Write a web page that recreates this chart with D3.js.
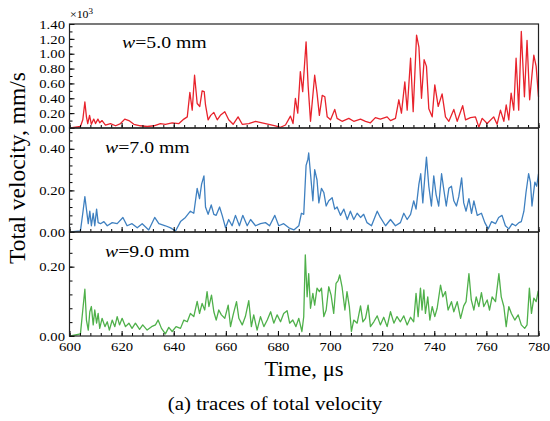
<!DOCTYPE html>
<html>
<head>
<meta charset="utf-8">
<script src="https://cdn.jsdelivr.net/npm/d3@7"></script>
<style>
  body { margin: 0; background: #fff; }
  .axis path { display: none; }
  .axis line { stroke: #000; }
</style>
</head>
<body>
<div id="chart"></div>
<script>
// time (us) / value pairs
const redTime = [600.4,604.2,605.1,605.9,606.5,607.0,607.7,608.4,609.3,610.0,610.9,611.6,612.5,613.8,615.7,617.7,619.6,621.2,622.8,624.7,627.2,629.8,632.4,634.9,636.8,639.4,642.0,643.9,645.2,646.2,647.1,648.0,649.0,650.0,650.9,651.7,652.2,653.2,654.2,655.4,656.7,657.9,659.6,661.1,662.8,664.7,666.3,668.8,671.4,673.9,676.5,679.0,681.0,682.9,684.8,685.8,686.7,687.6,688.6,689.5,690.8,691.6,692.5,694.1,695.0,695.9,697.0,698.0,698.9,700.2,701.8,702.7,704.6,707.2,709.1,711.7,713.6,715.5,717.4,719.3,721.9,723.2,725.1,726.4,727.4,728.7,729.6,730.9,731.9,733.2,734.1,735.1,736.1,737.0,737.9,739.2,740.2,741.5,743.0,744.3,745.6,747.5,748.8,750.9,752.0,753.9,755.8,757.1,758.4,760.3,762.8,764.1,765.4,766.7,767.6,768.6,769.5,770.5,771.4,772.4,773.4,774.6,775.6,776.6,778.2,779.1,780.0];
const redValue = [0.00,0.02,0.11,0.35,0.15,0.06,0.17,0.05,0.12,0.06,0.12,0.07,0.10,0.04,0.06,0.03,0.06,0.12,0.10,0.05,0.03,0.02,0.03,0.06,0.05,0.07,0.06,0.12,0.15,0.48,0.24,0.71,0.33,0.29,0.50,0.49,0.31,0.11,0.17,0.21,0.11,0.17,0.22,0.11,0.05,0.15,0.05,0.06,0.09,0.07,0.05,0.03,0.01,0.04,0.16,0.06,0.40,0.20,0.76,0.49,1.16,0.56,0.09,0.71,0.47,0.17,0.44,0.42,0.15,0.11,0.25,0.13,0.09,0.13,0.09,0.12,0.09,0.07,0.14,0.12,0.15,0.10,0.13,0.38,0.20,0.62,0.24,0.94,0.22,1.25,1.09,0.40,0.92,0.83,0.26,0.15,0.58,0.29,0.46,0.15,0.09,0.25,0.09,0.30,0.11,0.14,0.15,0.01,0.13,0.06,0.15,0.05,0.24,0.09,0.31,0.11,0.47,0.24,0.94,0.24,1.30,0.42,1.18,0.38,0.98,0.83,0.42];

const blueTime = [600.4,604.2,605.1,605.9,606.5,607.2,607.8,608.4,609.1,609.7,610.4,611.0,611.9,613.2,614.5,616.4,618.3,620.5,622.1,624.0,626.0,627.9,630.4,632.7,634.3,636.8,638.8,640.7,642.6,644.5,646.4,647.7,649.0,649.9,650.7,651.6,652.2,653.2,654.4,655.4,656.3,657.6,658.6,659.9,661.1,662.4,663.7,665.2,666.5,668.2,669.5,671.4,673.3,675.2,676.8,678.8,680.3,682.2,684.2,686.1,688.0,689.0,689.9,690.8,691.5,691.8,692.5,693.4,694.1,695.0,695.7,696.7,697.6,698.5,699.5,700.8,701.8,702.7,704.0,705.3,706.6,707.8,709.1,710.4,711.7,712.9,714.2,715.9,718.1,719.3,721.3,723.2,725.1,727.0,728.3,729.6,730.9,732.1,733.0,734.1,734.8,735.6,736.4,737.0,737.9,738.9,739.8,740.7,741.7,742.8,743.7,744.6,745.6,746.6,747.5,748.5,749.4,750.5,751.3,752.2,753.3,754.3,755.2,756.5,758.1,759.4,760.7,762.0,763.5,764.7,766.0,767.3,768.6,769.9,771.2,772.5,773.4,774.4,775.2,776.2,776.9,777.5,778.6,779.3,780.0];
const blueValue = [0.000,0.005,0.09,0.17,0.11,0.04,0.10,0.03,0.09,0.03,0.11,0.045,0.04,0.05,0.03,0.045,0.04,0.07,0.03,0.04,0.02,0.04,0.01,0.07,0.04,0.03,0.02,0.005,0.05,0.07,0.10,0.09,0.21,0.16,0.23,0.27,0.12,0.085,0.13,0.085,0.08,0.12,0.08,0.02,0.06,0.03,0.08,0.03,0.08,0.03,0.06,0.03,0.04,0.045,0.03,0.08,0.03,0.04,0.02,0.01,0.03,0.09,0.085,0.32,0.35,0.38,0.28,0.15,0.30,0.25,0.14,0.21,0.19,0.125,0.15,0.165,0.11,0.12,0.08,0.11,0.06,0.10,0.06,0.09,0.07,0.085,0.045,0.03,0.10,0.07,0.03,0.06,0.03,0.045,0.09,0.06,0.085,0.15,0.11,0.23,0.28,0.14,0.27,0.36,0.22,0.125,0.27,0.18,0.125,0.28,0.20,0.125,0.21,0.22,0.15,0.125,0.17,0.26,0.14,0.10,0.16,0.09,0.15,0.08,0.09,0.045,0.015,0.05,0.04,0.07,0.08,0.03,0.015,0.04,0.03,0.045,0.05,0.10,0.19,0.28,0.24,0.125,0.24,0.22,0.28];

const greenTime = [600.4,604.2,605.1,605.9,606.5,607.2,607.8,608.4,609.1,609.7,610.4,611.0,611.6,612.5,613.6,614.5,615.3,616.4,617.4,618.3,619.2,620.2,621.5,622.8,624.0,625.3,626.9,628.1,629.8,631.5,633.0,634.0,635.3,636.8,638.1,639.4,640.9,642.6,643.9,645.2,646.4,647.7,649.0,649.9,650.9,651.9,652.8,653.5,654.5,655.4,656.3,657.3,658.3,659.6,660.9,661.8,662.8,664.1,665.0,666.3,667.5,668.8,669.8,670.7,672.0,673.3,674.6,675.9,677.2,678.4,679.7,681.0,682.2,683.5,684.5,685.7,686.9,688.0,689.2,689.9,690.5,691.2,691.8,692.5,693.4,694.1,695.0,695.9,696.7,697.6,698.5,699.5,700.4,701.4,702.3,703.1,703.7,704.6,705.7,706.5,707.4,708.2,709.1,710.4,711.7,712.6,713.6,714.6,715.5,716.8,718.1,719.3,720.6,721.9,723.2,724.5,725.7,727.0,728.3,729.6,730.9,732.1,733.0,733.8,734.7,735.3,736.0,736.6,737.5,738.3,739.2,740.2,741.1,742.4,743.3,744.3,745.3,746.6,747.5,748.8,750.1,751.3,752.2,753.3,754.2,755.2,756.1,757.1,758.1,759.0,760.3,761.2,762.2,763.5,764.8,765.7,766.7,767.6,768.6,769.6,770.9,772.2,773.4,774.7,775.6,776.5,777.3,778.2,779.1,779.9];
const greenValue = [0.000,0.006,0.075,0.135,0.046,0.017,0.070,0.085,0.032,0.075,0.037,0.065,0.022,0.051,0.027,0.041,0.017,0.046,0.027,0.056,0.032,0.051,0.027,0.037,0.022,0.037,0.019,0.032,0.017,0.027,0.032,0.046,0.022,0.006,0.025,0.013,0.027,0.022,0.046,0.041,0.065,0.056,0.100,0.065,0.094,0.075,0.128,0.085,0.118,0.070,0.046,0.075,0.061,0.051,0.089,0.027,0.061,0.099,0.051,0.032,0.056,0.102,0.027,0.061,0.017,0.056,0.027,0.046,0.070,0.037,0.061,0.041,0.065,0.073,0.037,0.046,0.027,0.051,0.013,0.056,0.234,0.113,0.180,0.080,0.123,0.089,0.138,0.128,0.138,0.056,0.075,0.142,0.118,0.065,0.152,0.160,0.176,0.142,0.075,0.128,0.085,0.013,0.046,0.037,0.087,0.041,0.051,0.089,0.027,0.041,0.058,0.032,0.054,0.027,0.070,0.037,0.056,0.041,0.058,0.032,0.054,0.041,0.123,0.056,0.138,0.075,0.133,0.065,0.113,0.046,0.085,0.056,0.080,0.147,0.113,0.128,0.075,0.099,0.070,0.099,0.051,0.087,0.099,0.180,0.104,0.075,0.113,0.085,0.125,0.085,0.104,0.075,0.113,0.099,0.180,0.113,0.085,0.027,0.085,0.065,0.046,0.061,0.032,0.022,0.032,0.138,0.065,0.109,0.099,0.130];

const xDomain = [600, 780];
const xTicks = [600, 620, 640, 660, 680, 700, 720, 740, 760, 780];
const panelLabels = ['5.0', '7.0', '9.0'];
const panelMax = [1.4, 0.5, 0.3];
const panelMajor = [
  [0, 0.2, 0.4, 0.6, 0.8, 1.0, 1.2, 1.4],
  [0, 0.2, 0.4],
  [0, 0.2]
];
const panelMinorStep = [0.1, 0.04, 0.04];
const panelColors = ['#e8232c', '#3f80c0', '#4fb04a'];

const FONT = '"Liberation Serif", "Times New Roman", serif';
const SX = 1.13; // the source text is a bit wider than it is tall
const width = 550, height = 421;
const left = 69.5, right = 538.5;
const panelTop = [24, 128, 232];
const panelH = 104;

const svg = d3.select('#chart').append('svg')
  .attr('width', width)
  .attr('height', height)
  .attr('font-family', FONT);

const x = d3.scaleLinear().domain(xDomain).range([left, right]);
const minorX = d3.range(600, 781, 4);

const series = [
  redTime.map((t, i) => [t, redValue[i]]),
  blueTime.map((t, i) => [t, blueValue[i]]),
  greenTime.map((t, i) => [t, greenValue[i]])
];

function styleAxis(g) {
  g.attr('font-family', FONT).attr('font-size', 13);
  g.selectAll('text').attr('fill', '#000').attr('transform', `scale(${SX},1)`);
}

// text placed at (px, py) and stretched horizontally
function label(px, py, size, anchor) {
  return svg.append('g')
    .attr('transform', `translate(${px},${py}) scale(${SX},1)`)
    .append('text')
    .attr('font-size', size)
    .attr('text-anchor', anchor || 'start')
    .attr('fill', '#000');
}

series.forEach((data, p) => {
  const top = panelTop[p];
  const y = d3.scaleLinear().domain([0, panelMax[p]]).range([top + panelH, top]);
  const minorY = d3.range(0, panelMax[p] + 1e-9, panelMinorStep[p]);

  // trace
  svg.append('path')
    .datum(data)
    .attr('fill', 'none')
    .attr('stroke', panelColors[p])
    .attr('stroke-width', 1.3)
    .attr('stroke-linejoin', 'round')
    .attr('d', d3.line().x(d => x(d[0])).y(d => y(d[1])));

  // y ticks (inward)
  svg.append('g')
    .attr('class', 'axis')
    .attr('transform', `translate(${left},0)`)
    .call(d3.axisLeft(y).tickValues(minorY).tickSize(-3).tickFormat(''));
  svg.append('g')
    .attr('class', 'axis')
    .attr('transform', `translate(${left},0)`)
    .call(d3.axisLeft(y).tickValues(panelMajor[p]).tickSize(-5).tickPadding(4).tickFormat(d3.format('.2f')))
    .call(styleAxis);

  // x ticks along panel bottom
  svg.append('g')
    .attr('class', 'axis')
    .attr('transform', `translate(0,${top + panelH})`)
    .call(d3.axisBottom(x).tickValues(minorX).tickSize(-3).tickFormat(''));
  const xa = svg.append('g')
    .attr('class', 'axis')
    .attr('transform', `translate(0,${top + panelH})`)
    .call(d3.axisBottom(x).tickValues(xTicks).tickSize(-5).tickPadding(6).tickFormat(d3.format('d')))
    .call(styleAxis);
  if (p < 2) xa.selectAll('text').remove();

  // frame
  svg.append('rect')
    .attr('x', left).attr('y', top)
    .attr('width', right - left).attr('height', panelH)
    .attr('fill', 'none')
    .attr('stroke', '#222')
    .attr('stroke-width', 1.2);

  // panel label
  const lbl = label(p === 0 ? 122 : 105, [48, 153, 257][p], 17.5);
  lbl.append('tspan').attr('font-style', 'italic').text('w');
  lbl.append('tspan').text('=' + panelLabels[p] + ' mm');
});

// multiplier
const mult = label(70, 18, 10.5).text('×10');
mult.append('tspan').attr('dy', -4).attr('font-size', 8).text('3');

// axis titles
label((left + right) / 2, 376, 20, 'middle').text('Time, μs');

svg.append('text')
  .attr('transform', 'translate(25,168) rotate(-90)')
  .attr('text-anchor', 'middle')
  .attr('font-size', 23.5)
  .attr('fill', '#000')
  .text('Total velocity, mm/s');

label(275, 410, 18.5, 'middle').text('(a) traces of total velocity');
</script>
</body>
</html>
